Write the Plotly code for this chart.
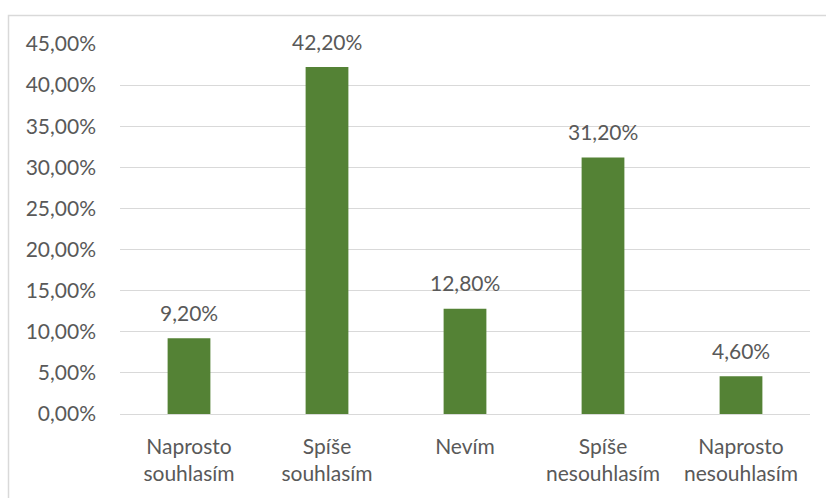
import plotly.graph_objects as go

categories = ["Naprosto<br>souhlasím", "Spíše<br>souhlasím", "Nevím",
              "Spíše<br>nesouhlasím", "Naprosto<br>nesouhlasím"]
values = [0.092, 0.422, 0.128, 0.312, 0.046]
tick_values = [0.0, 0.05, 0.10, 0.15, 0.20, 0.25, 0.30, 0.35, 0.40, 0.45]

W, H = 826, 498
L, R, T, B = 120, 16, 44, 84
pw, ph = W - L - R, H - T - B

def px_x(x):
    return (x - L) / pw

def px_y(y):
    return (H - B - y) / ph

text_color = "#595959"
font_family = "Lato, 'Open Sans', sans-serif"
fs = 21

def pct(v):
    return f"{v * 100:.2f}".replace(".", ",") + "%"

fig = go.Figure(go.Bar(
    x=categories,
    y=values,
    marker=dict(color="#548235", line=dict(width=0)),
    width=0.31,
    hoverinfo="x+y",
))

# value labels above each bar
for c, v in zip(categories, values):
    fig.add_annotation(x=c, y=v, text=pct(v), showarrow=False,
                       yanchor="middle", yshift=26,
                       font=dict(color=text_color, size=fs, family=font_family))

fig.update_layout(
    width=W, height=H,
    margin=dict(l=L, r=R, t=T, b=B, pad=0),
    separators=", ",
    paper_bgcolor="white",
    plot_bgcolor="white",
    showlegend=False,
    font=dict(family=font_family, color=text_color, size=fs),
    xaxis=dict(showgrid=False, showline=False, ticks="", zeroline=False,
               ticklabelstandoff=18,
               tickfont=dict(size=fs, color=text_color)),
    yaxis=dict(range=[0, 0.45], tickvals=tick_values, tickformat=".2%",
               showgrid=True, gridcolor="#d9d9d9", gridwidth=1,
               zeroline=True, zerolinecolor="#d9d9d9", zerolinewidth=1,
               showline=False, ticks="", ticklabelstandoff=23,
               tickfont=dict(size=fs, color=text_color)),
    shapes=[dict(type="rect", xref="paper", yref="paper",
                 x0=px_x(8.5), x1=px_x(832), y0=px_y(505), y1=px_y(15.5),
                 line=dict(color="#d9d9d9", width=1.5), layer="below")],
)

fig.write_html("out.html")
